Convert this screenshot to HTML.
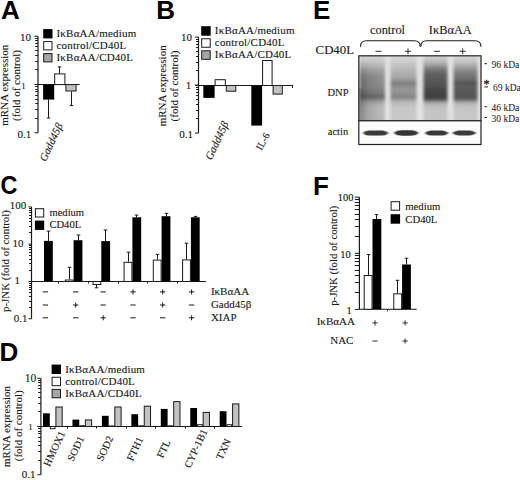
<!DOCTYPE html>
<html><head><meta charset="utf-8"><style>
html,body{margin:0;padding:0;background:#fff;width:520px;height:480px;overflow:hidden}
svg{display:block}
</style></head><body>
<svg width="520" height="480" viewBox="0 0 520 480">
<rect width="520" height="480" fill="#fff"/>
<text x="1.0" y="19" font-family="'Liberation Sans', sans-serif" font-size="26" text-anchor="start" font-weight="bold" font-style="normal" fill="#000">A</text>
<line x1="38.0" y1="36.25" x2="38.0" y2="132.75" stroke="#1a1a1a" stroke-width="1.2"/>
<line x1="34.5" y1="36.25" x2="38.0" y2="36.25" stroke="#1a1a1a" stroke-width="1"/>
<line x1="34.5" y1="84.5" x2="38.0" y2="84.5" stroke="#1a1a1a" stroke-width="1"/>
<line x1="34.5" y1="132.75" x2="38.0" y2="132.75" stroke="#1a1a1a" stroke-width="1"/>
<line x1="35.2" y1="69.5" x2="38.0" y2="69.5" stroke="#1a1a1a" stroke-width="1"/>
<line x1="35.2" y1="61.5" x2="38.0" y2="61.5" stroke="#1a1a1a" stroke-width="1"/>
<line x1="35.2" y1="55.5" x2="38.0" y2="55.5" stroke="#1a1a1a" stroke-width="1"/>
<line x1="35.2" y1="50.5" x2="38.0" y2="50.5" stroke="#1a1a1a" stroke-width="1"/>
<line x1="35.2" y1="46.5" x2="38.0" y2="46.5" stroke="#1a1a1a" stroke-width="1"/>
<line x1="35.2" y1="43.5" x2="38.0" y2="43.5" stroke="#1a1a1a" stroke-width="1"/>
<line x1="35.2" y1="40.5" x2="38.0" y2="40.5" stroke="#1a1a1a" stroke-width="1"/>
<line x1="35.2" y1="38.5" x2="38.0" y2="38.5" stroke="#1a1a1a" stroke-width="1"/>
<line x1="35.2" y1="118.5" x2="38.0" y2="118.5" stroke="#1a1a1a" stroke-width="1"/>
<line x1="35.2" y1="109.5" x2="38.0" y2="109.5" stroke="#1a1a1a" stroke-width="1"/>
<line x1="35.2" y1="103.5" x2="38.0" y2="103.5" stroke="#1a1a1a" stroke-width="1"/>
<line x1="35.2" y1="99.5" x2="38.0" y2="99.5" stroke="#1a1a1a" stroke-width="1"/>
<line x1="35.2" y1="95.5" x2="38.0" y2="95.5" stroke="#1a1a1a" stroke-width="1"/>
<line x1="35.2" y1="91.5" x2="38.0" y2="91.5" stroke="#1a1a1a" stroke-width="1"/>
<line x1="35.2" y1="89.5" x2="38.0" y2="89.5" stroke="#1a1a1a" stroke-width="1"/>
<line x1="35.2" y1="86.5" x2="38.0" y2="86.5" stroke="#1a1a1a" stroke-width="1"/>
<text x="25.6" y="40.5" font-family="'Liberation Serif', serif" font-size="11" text-anchor="middle" font-weight="normal" font-style="normal" fill="#1a1a1a" stroke="#1a1a1a" stroke-width="0.12">10</text>
<text x="23.6" y="89" font-family="'Liberation Serif', serif" font-size="9" text-anchor="middle" font-weight="normal" font-style="normal" fill="#1a1a1a" stroke="#1a1a1a" stroke-width="0.12">1</text>
<text x="24.4" y="137.5" font-family="'Liberation Serif', serif" font-size="11" text-anchor="middle" font-weight="normal" font-style="normal" fill="#1a1a1a" stroke="#1a1a1a" stroke-width="0.12">0.1</text>
<text x="7.8" y="85.2" font-family="'Liberation Serif', serif" font-size="11" text-anchor="middle" font-weight="normal" font-style="normal" fill="#1a1a1a" stroke="#1a1a1a" stroke-width="0.12" transform="rotate(-90 7.8 85.2)">mRNA expression</text>
<text x="19.8" y="85.5" font-family="'Liberation Serif', serif" font-size="11" text-anchor="middle" font-weight="normal" font-style="normal" fill="#1a1a1a" stroke="#1a1a1a" stroke-width="0.12" transform="rotate(-90 19.8 85.5)">(fold of control)</text>
<line x1="34.5" y1="84.5" x2="79.5" y2="84.5" stroke="#1a1a1a" stroke-width="1.1"/>
<rect x="43.1" y="84.6" width="11.100000000000001" height="15.0" fill="#000"/>
<line x1="48.5" y1="99.6" x2="48.5" y2="118" stroke="#1a1a1a" stroke-width="1"/>
<line x1="46.7" y1="118" x2="50.3" y2="118" stroke="#1a1a1a" stroke-width="1"/>
<rect x="54.7" y="73.9" width="10.200000000000003" height="10.699999999999989" fill="#fff" stroke="#1a1a1a" stroke-width="1"/>
<line x1="59.5" y1="73.4" x2="59.5" y2="66.9" stroke="#1a1a1a" stroke-width="1"/>
<line x1="57.7" y1="66.9" x2="61.3" y2="66.9" stroke="#1a1a1a" stroke-width="1"/>
<rect x="65.9" y="84.6" width="10.199999999999989" height="6.400000000000006" fill="#c2c2c2" stroke="#1a1a1a" stroke-width="1"/>
<line x1="71.5" y1="91.5" x2="71.5" y2="105.6" stroke="#1a1a1a" stroke-width="1"/>
<line x1="69.7" y1="105.6" x2="73.3" y2="105.6" stroke="#1a1a1a" stroke-width="1"/>
<rect x="43.2" y="29.1" width="9.3" height="9.3" fill="#000"/>
<text x="56.5" y="36.900000000000006" font-family="'Liberation Serif', serif" font-size="11" text-anchor="start" font-weight="normal" font-style="normal" fill="#1a1a1a" stroke="#1a1a1a" stroke-width="0.12" letter-spacing="0.2">I&#954;B&#945;AA/medium</text>
<rect x="43.7" y="41.6" width="8.3" height="8.3" fill="#fff" stroke="#1a1a1a" stroke-width="1"/>
<text x="56.5" y="48.900000000000006" font-family="'Liberation Serif', serif" font-size="11" text-anchor="start" font-weight="normal" font-style="normal" fill="#1a1a1a" stroke="#1a1a1a" stroke-width="0.12" letter-spacing="0.2">control/CD40L</text>
<rect x="43.7" y="53.6" width="8.3" height="8.3" fill="#a6a6a6" stroke="#1a1a1a" stroke-width="1"/>
<text x="56.5" y="60.900000000000006" font-family="'Liberation Serif', serif" font-size="11" text-anchor="start" font-weight="normal" font-style="normal" fill="#1a1a1a" stroke="#1a1a1a" stroke-width="0.12" letter-spacing="0.2">I&#954;B&#945;AA/CD40L</text>
<text x="45.7" y="162.3" font-family="'Liberation Serif', serif" font-size="11" text-anchor="start" font-weight="normal" font-style="italic" fill="#1a1a1a" stroke="#1a1a1a" stroke-width="0.12" transform="rotate(-65 45.7 162.3)">Gadd45&#946;</text>
<text x="156.3" y="19.4" font-family="'Liberation Sans', sans-serif" font-size="26" text-anchor="start" font-weight="bold" font-style="normal" fill="#000">B</text>
<line x1="198.5" y1="37.1" x2="198.5" y2="133.1" stroke="#1a1a1a" stroke-width="1.2"/>
<line x1="195.0" y1="37.1" x2="198.5" y2="37.1" stroke="#1a1a1a" stroke-width="1"/>
<line x1="195.0" y1="85.1" x2="198.5" y2="85.1" stroke="#1a1a1a" stroke-width="1"/>
<line x1="195.0" y1="133.1" x2="198.5" y2="133.1" stroke="#1a1a1a" stroke-width="1"/>
<line x1="196.0" y1="70.5" x2="198.5" y2="70.5" stroke="#1a1a1a" stroke-width="1"/>
<line x1="196.0" y1="62.5" x2="198.5" y2="62.5" stroke="#1a1a1a" stroke-width="1"/>
<line x1="196.0" y1="56.5" x2="198.5" y2="56.5" stroke="#1a1a1a" stroke-width="1"/>
<line x1="196.0" y1="51.5" x2="198.5" y2="51.5" stroke="#1a1a1a" stroke-width="1"/>
<line x1="196.0" y1="47.5" x2="198.5" y2="47.5" stroke="#1a1a1a" stroke-width="1"/>
<line x1="196.0" y1="44.5" x2="198.5" y2="44.5" stroke="#1a1a1a" stroke-width="1"/>
<line x1="196.0" y1="41.5" x2="198.5" y2="41.5" stroke="#1a1a1a" stroke-width="1"/>
<line x1="196.0" y1="39.5" x2="198.5" y2="39.5" stroke="#1a1a1a" stroke-width="1"/>
<line x1="196.0" y1="118.5" x2="198.5" y2="118.5" stroke="#1a1a1a" stroke-width="1"/>
<line x1="196.0" y1="110.5" x2="198.5" y2="110.5" stroke="#1a1a1a" stroke-width="1"/>
<line x1="196.0" y1="104.5" x2="198.5" y2="104.5" stroke="#1a1a1a" stroke-width="1"/>
<line x1="196.0" y1="99.5" x2="198.5" y2="99.5" stroke="#1a1a1a" stroke-width="1"/>
<line x1="196.0" y1="95.5" x2="198.5" y2="95.5" stroke="#1a1a1a" stroke-width="1"/>
<line x1="196.0" y1="92.5" x2="198.5" y2="92.5" stroke="#1a1a1a" stroke-width="1"/>
<line x1="196.0" y1="89.5" x2="198.5" y2="89.5" stroke="#1a1a1a" stroke-width="1"/>
<line x1="196.0" y1="87.5" x2="198.5" y2="87.5" stroke="#1a1a1a" stroke-width="1"/>
<text x="186.6" y="40.8" font-family="'Liberation Serif', serif" font-size="11" text-anchor="middle" font-weight="normal" font-style="normal" fill="#1a1a1a" stroke="#1a1a1a" stroke-width="0.12">10</text>
<text x="188.5" y="89.3" font-family="'Liberation Serif', serif" font-size="11" text-anchor="middle" font-weight="normal" font-style="normal" fill="#1a1a1a" stroke="#1a1a1a" stroke-width="0.12">1</text>
<text x="186.1" y="137.5" font-family="'Liberation Serif', serif" font-size="11" text-anchor="middle" font-weight="normal" font-style="normal" fill="#1a1a1a" stroke="#1a1a1a" stroke-width="0.12">0.1</text>
<text x="165.6" y="85.8" font-family="'Liberation Serif', serif" font-size="11" text-anchor="middle" font-weight="normal" font-style="normal" fill="#1a1a1a" stroke="#1a1a1a" stroke-width="0.12" transform="rotate(-90 165.6 85.8)">mRNA expression</text>
<text x="178.1" y="86.0" font-family="'Liberation Serif', serif" font-size="11" text-anchor="middle" font-weight="normal" font-style="normal" fill="#1a1a1a" stroke="#1a1a1a" stroke-width="0.12" transform="rotate(-90 178.1 86.0)">(fold of control)</text>
<line x1="195" y1="85.5" x2="293" y2="85.5" stroke="#1a1a1a" stroke-width="1.0"/>
<line x1="292.5" y1="85.5" x2="292.5" y2="88" stroke="#1a1a1a" stroke-width="1"/>
<rect x="203.3" y="85.5" width="11.299999999999983" height="12.400000000000006" fill="#000"/>
<rect x="215.1" y="79.7" width="10.200000000000017" height="5.799999999999997" fill="#fff" stroke="#1a1a1a" stroke-width="1"/>
<rect x="226.3" y="85.5" width="9.5" height="5.700000000000003" fill="#c2c2c2" stroke="#1a1a1a" stroke-width="1"/>
<rect x="251.3" y="85.5" width="10.800000000000011" height="40.099999999999994" fill="#000"/>
<rect x="262.6" y="60.5" width="9.5" height="25.0" fill="#fff" stroke="#1a1a1a" stroke-width="1"/>
<rect x="273.1" y="85.5" width="9.199999999999989" height="8.599999999999994" fill="#c2c2c2" stroke="#1a1a1a" stroke-width="1"/>
<rect x="201.2" y="26.2" width="9.5" height="9.5" fill="#000"/>
<text x="214.8" y="34.2" font-family="'Liberation Serif', serif" font-size="11" text-anchor="start" font-weight="normal" font-style="normal" fill="#1a1a1a" stroke="#1a1a1a" stroke-width="0.12" letter-spacing="0.2">I&#954;B&#945;AA/medium</text>
<rect x="201.7" y="38.75" width="8.5" height="8.5" fill="#fff" stroke="#1a1a1a" stroke-width="1"/>
<text x="214.8" y="46.25" font-family="'Liberation Serif', serif" font-size="11" text-anchor="start" font-weight="normal" font-style="normal" fill="#1a1a1a" stroke="#1a1a1a" stroke-width="0.12" letter-spacing="0.2">control/CD40L</text>
<rect x="201.7" y="50.8" width="8.5" height="8.5" fill="#a6a6a6" stroke="#1a1a1a" stroke-width="1"/>
<text x="214.8" y="58.3" font-family="'Liberation Serif', serif" font-size="11" text-anchor="start" font-weight="normal" font-style="normal" fill="#1a1a1a" stroke="#1a1a1a" stroke-width="0.12" letter-spacing="0.2">I&#954;B&#945;AA/CD40L</text>
<text x="211.5" y="160.7" font-family="'Liberation Serif', serif" font-size="11" text-anchor="start" font-weight="normal" font-style="italic" fill="#1a1a1a" stroke="#1a1a1a" stroke-width="0.12" transform="rotate(-65 211.5 160.7)">Gadd45&#946;</text>
<text x="261.6" y="150.9" font-family="'Liberation Serif', serif" font-size="10.2" text-anchor="start" font-weight="normal" font-style="normal" fill="#1a1a1a" stroke="#1a1a1a" stroke-width="0.12" transform="rotate(-62 261.6 150.9)">IL-6</text>
<g transform="translate(0.4 0) scale(0.9 1)">
<text x="0" y="194" font-family="'Liberation Sans', sans-serif" font-size="26" text-anchor="start" font-weight="bold" font-style="normal" fill="#000">C</text>
</g>
<line x1="31.5" y1="206.9" x2="31.5" y2="318.8" stroke="#1a1a1a" stroke-width="1.2"/>
<line x1="28.5" y1="206.9" x2="31.5" y2="206.9" stroke="#1a1a1a" stroke-width="1"/>
<line x1="28.5" y1="244.2" x2="31.5" y2="244.2" stroke="#1a1a1a" stroke-width="1"/>
<line x1="28.5" y1="281.5" x2="31.5" y2="281.5" stroke="#1a1a1a" stroke-width="1"/>
<line x1="28.5" y1="318.8" x2="31.5" y2="318.8" stroke="#1a1a1a" stroke-width="1"/>
<line x1="29.0" y1="232.5" x2="31.5" y2="232.5" stroke="#1a1a1a" stroke-width="1"/>
<line x1="29.0" y1="226.5" x2="31.5" y2="226.5" stroke="#1a1a1a" stroke-width="1"/>
<line x1="29.0" y1="221.5" x2="31.5" y2="221.5" stroke="#1a1a1a" stroke-width="1"/>
<line x1="29.0" y1="218.5" x2="31.5" y2="218.5" stroke="#1a1a1a" stroke-width="1"/>
<line x1="29.0" y1="215.5" x2="31.5" y2="215.5" stroke="#1a1a1a" stroke-width="1"/>
<line x1="29.0" y1="212.5" x2="31.5" y2="212.5" stroke="#1a1a1a" stroke-width="1"/>
<line x1="29.0" y1="210.5" x2="31.5" y2="210.5" stroke="#1a1a1a" stroke-width="1"/>
<line x1="29.0" y1="208.5" x2="31.5" y2="208.5" stroke="#1a1a1a" stroke-width="1"/>
<line x1="29.0" y1="270.5" x2="31.5" y2="270.5" stroke="#1a1a1a" stroke-width="1"/>
<line x1="29.0" y1="263.5" x2="31.5" y2="263.5" stroke="#1a1a1a" stroke-width="1"/>
<line x1="29.0" y1="259.5" x2="31.5" y2="259.5" stroke="#1a1a1a" stroke-width="1"/>
<line x1="29.0" y1="255.5" x2="31.5" y2="255.5" stroke="#1a1a1a" stroke-width="1"/>
<line x1="29.0" y1="252.5" x2="31.5" y2="252.5" stroke="#1a1a1a" stroke-width="1"/>
<line x1="29.0" y1="249.5" x2="31.5" y2="249.5" stroke="#1a1a1a" stroke-width="1"/>
<line x1="29.0" y1="247.5" x2="31.5" y2="247.5" stroke="#1a1a1a" stroke-width="1"/>
<line x1="29.0" y1="245.5" x2="31.5" y2="245.5" stroke="#1a1a1a" stroke-width="1"/>
<line x1="29.0" y1="307.5" x2="31.5" y2="307.5" stroke="#1a1a1a" stroke-width="1"/>
<line x1="29.0" y1="301.5" x2="31.5" y2="301.5" stroke="#1a1a1a" stroke-width="1"/>
<line x1="29.0" y1="296.5" x2="31.5" y2="296.5" stroke="#1a1a1a" stroke-width="1"/>
<line x1="29.0" y1="292.5" x2="31.5" y2="292.5" stroke="#1a1a1a" stroke-width="1"/>
<line x1="29.0" y1="289.5" x2="31.5" y2="289.5" stroke="#1a1a1a" stroke-width="1"/>
<line x1="29.0" y1="287.5" x2="31.5" y2="287.5" stroke="#1a1a1a" stroke-width="1"/>
<line x1="29.0" y1="285.5" x2="31.5" y2="285.5" stroke="#1a1a1a" stroke-width="1"/>
<line x1="29.0" y1="283.5" x2="31.5" y2="283.5" stroke="#1a1a1a" stroke-width="1"/>
<text x="18.1" y="209" font-family="'Liberation Serif', serif" font-size="11" text-anchor="middle" font-weight="normal" font-style="normal" fill="#1a1a1a" stroke="#1a1a1a" stroke-width="0.12">100</text>
<text x="18.1" y="246.5" font-family="'Liberation Serif', serif" font-size="11" text-anchor="middle" font-weight="normal" font-style="normal" fill="#1a1a1a" stroke="#1a1a1a" stroke-width="0.12">10</text>
<text x="17.2" y="284.2" font-family="'Liberation Serif', serif" font-size="11" text-anchor="middle" font-weight="normal" font-style="normal" fill="#1a1a1a" stroke="#1a1a1a" stroke-width="0.12">1</text>
<text x="20.6" y="322.3" font-family="'Liberation Serif', serif" font-size="11" text-anchor="middle" font-weight="normal" font-style="normal" fill="#1a1a1a" stroke="#1a1a1a" stroke-width="0.12">0.1</text>
<text x="9.2" y="261.0" font-family="'Liberation Serif', serif" font-size="10.9" text-anchor="middle" font-weight="normal" font-style="normal" fill="#1a1a1a" stroke="#1a1a1a" stroke-width="0.12" transform="rotate(-90 9.2 261.0)">p-JNK (fold of control)</text>
<line x1="31" y1="281.5" x2="206" y2="281.5" stroke="#1a1a1a" stroke-width="1.0"/>
<rect x="44.0" y="240.9" width="8.799999999999997" height="40.599999999999994" fill="#000"/>
<line x1="48.5" y1="240.9" x2="48.5" y2="231.1" stroke="#1a1a1a" stroke-width="1"/>
<line x1="46.7" y1="231.1" x2="50.3" y2="231.1" stroke="#1a1a1a" stroke-width="1"/>
<rect x="65.3" y="280.0" width="7.799999999999997" height="1.5" fill="#fff" stroke="#1a1a1a" stroke-width="1"/>
<line x1="69.5" y1="279.5" x2="69.5" y2="267.3" stroke="#1a1a1a" stroke-width="1"/>
<line x1="67.7" y1="267.3" x2="71.3" y2="267.3" stroke="#1a1a1a" stroke-width="1"/>
<rect x="73.6" y="240.2" width="8.799999999999997" height="41.30000000000001" fill="#000"/>
<line x1="78.5" y1="240.2" x2="78.5" y2="235.0" stroke="#1a1a1a" stroke-width="1"/>
<line x1="76.7" y1="235.0" x2="80.3" y2="235.0" stroke="#1a1a1a" stroke-width="1"/>
<rect x="93.0" y="281.5" width="7.799999999999997" height="3.0" fill="#fff" stroke="#1a1a1a" stroke-width="1"/>
<line x1="96.5" y1="285.0" x2="96.5" y2="287.8" stroke="#1a1a1a" stroke-width="1"/>
<line x1="94.7" y1="287.8" x2="98.3" y2="287.8" stroke="#1a1a1a" stroke-width="1"/>
<rect x="101.3" y="241.1" width="8.799999999999997" height="40.400000000000006" fill="#000"/>
<line x1="105.5" y1="241.1" x2="105.5" y2="230.0" stroke="#1a1a1a" stroke-width="1"/>
<line x1="103.7" y1="230.0" x2="107.3" y2="230.0" stroke="#1a1a1a" stroke-width="1"/>
<rect x="124.10000000000001" y="262.3" width="7.799999999999997" height="19.19999999999999" fill="#fff" stroke="#1a1a1a" stroke-width="1"/>
<line x1="128.5" y1="261.8" x2="128.5" y2="252.2" stroke="#1a1a1a" stroke-width="1"/>
<line x1="126.7" y1="252.2" x2="130.3" y2="252.2" stroke="#1a1a1a" stroke-width="1"/>
<rect x="132.4" y="217.3" width="8.800000000000011" height="64.19999999999999" fill="#000"/>
<line x1="136.5" y1="217.3" x2="136.5" y2="215.0" stroke="#1a1a1a" stroke-width="1"/>
<line x1="134.7" y1="215.0" x2="138.3" y2="215.0" stroke="#1a1a1a" stroke-width="1"/>
<rect x="153.29999999999998" y="260.1" width="7.800000000000011" height="21.399999999999977" fill="#fff" stroke="#1a1a1a" stroke-width="1"/>
<line x1="157.5" y1="259.6" x2="157.5" y2="254.3" stroke="#1a1a1a" stroke-width="1"/>
<line x1="155.7" y1="254.3" x2="159.3" y2="254.3" stroke="#1a1a1a" stroke-width="1"/>
<rect x="161.6" y="216.2" width="8.800000000000011" height="65.30000000000001" fill="#000"/>
<line x1="166.5" y1="216.2" x2="166.5" y2="213.4" stroke="#1a1a1a" stroke-width="1"/>
<line x1="164.7" y1="213.4" x2="168.3" y2="213.4" stroke="#1a1a1a" stroke-width="1"/>
<rect x="182.6" y="259.9" width="7.800000000000011" height="21.600000000000023" fill="#fff" stroke="#1a1a1a" stroke-width="1"/>
<line x1="186.5" y1="259.4" x2="186.5" y2="243.2" stroke="#1a1a1a" stroke-width="1"/>
<line x1="184.7" y1="243.2" x2="188.3" y2="243.2" stroke="#1a1a1a" stroke-width="1"/>
<rect x="190.9" y="217.3" width="8.800000000000011" height="64.19999999999999" fill="#000"/>
<line x1="195.5" y1="217.3" x2="195.5" y2="216.4" stroke="#1a1a1a" stroke-width="1"/>
<line x1="193.7" y1="216.4" x2="197.3" y2="216.4" stroke="#1a1a1a" stroke-width="1"/>
<line x1="58.5" y1="281.5" x2="58.5" y2="283.5" stroke="#1a1a1a" stroke-width="1"/>
<line x1="88.5" y1="281.5" x2="88.5" y2="283.5" stroke="#1a1a1a" stroke-width="1"/>
<line x1="118.5" y1="281.5" x2="118.5" y2="283.5" stroke="#1a1a1a" stroke-width="1"/>
<line x1="147.5" y1="281.5" x2="147.5" y2="283.5" stroke="#1a1a1a" stroke-width="1"/>
<line x1="177.5" y1="281.5" x2="177.5" y2="283.5" stroke="#1a1a1a" stroke-width="1"/>
<rect x="35.4" y="208.7" width="8.3" height="8.3" fill="#fff" stroke="#1a1a1a" stroke-width="1"/>
<text x="49.4" y="215.9" font-family="'Liberation Serif', serif" font-size="10.6" text-anchor="start" font-weight="normal" font-style="normal" fill="#1a1a1a" stroke="#1a1a1a" stroke-width="0.12">medium</text>
<rect x="34.9" y="220.6" width="9.3" height="9.3" fill="#000"/>
<text x="49.4" y="228.3" font-family="'Liberation Serif', serif" font-size="10.6" text-anchor="start" font-weight="normal" font-style="normal" fill="#1a1a1a" stroke="#1a1a1a" stroke-width="0.12">CD40L</text>
<line x1="42.699999999999996" y1="291.9" x2="48.1" y2="291.9" stroke="#1a1a1a" stroke-width="1.0"/>
<line x1="73.0" y1="291.9" x2="78.4" y2="291.9" stroke="#1a1a1a" stroke-width="1.0"/>
<line x1="100.5" y1="291.9" x2="105.9" y2="291.9" stroke="#1a1a1a" stroke-width="1.0"/>
<line x1="130.3" y1="291.9" x2="135.7" y2="291.9" stroke="#1a1a1a" stroke-width="1.0"/>
<line x1="133.0" y1="289.4" x2="133.0" y2="294.4" stroke="#1a1a1a" stroke-width="1.0"/>
<line x1="160.0" y1="291.9" x2="165.39999999999998" y2="291.9" stroke="#1a1a1a" stroke-width="1.0"/>
<line x1="162.7" y1="289.4" x2="162.7" y2="294.4" stroke="#1a1a1a" stroke-width="1.0"/>
<line x1="188.9" y1="291.9" x2="194.29999999999998" y2="291.9" stroke="#1a1a1a" stroke-width="1.0"/>
<line x1="191.6" y1="289.4" x2="191.6" y2="294.4" stroke="#1a1a1a" stroke-width="1.0"/>
<line x1="42.699999999999996" y1="305.0" x2="48.1" y2="305.0" stroke="#1a1a1a" stroke-width="1.0"/>
<line x1="73.0" y1="305.0" x2="78.4" y2="305.0" stroke="#1a1a1a" stroke-width="1.0"/>
<line x1="75.7" y1="302.5" x2="75.7" y2="307.5" stroke="#1a1a1a" stroke-width="1.0"/>
<line x1="100.5" y1="305.0" x2="105.9" y2="305.0" stroke="#1a1a1a" stroke-width="1.0"/>
<line x1="130.3" y1="305.0" x2="135.7" y2="305.0" stroke="#1a1a1a" stroke-width="1.0"/>
<line x1="160.0" y1="305.0" x2="165.39999999999998" y2="305.0" stroke="#1a1a1a" stroke-width="1.0"/>
<line x1="162.7" y1="302.5" x2="162.7" y2="307.5" stroke="#1a1a1a" stroke-width="1.0"/>
<line x1="188.9" y1="305.0" x2="194.29999999999998" y2="305.0" stroke="#1a1a1a" stroke-width="1.0"/>
<line x1="42.699999999999996" y1="317.8" x2="48.1" y2="317.8" stroke="#1a1a1a" stroke-width="1.0"/>
<line x1="73.0" y1="317.8" x2="78.4" y2="317.8" stroke="#1a1a1a" stroke-width="1.0"/>
<line x1="100.5" y1="317.8" x2="105.9" y2="317.8" stroke="#1a1a1a" stroke-width="1.0"/>
<line x1="103.2" y1="315.3" x2="103.2" y2="320.3" stroke="#1a1a1a" stroke-width="1.0"/>
<line x1="130.3" y1="317.8" x2="135.7" y2="317.8" stroke="#1a1a1a" stroke-width="1.0"/>
<line x1="160.0" y1="317.8" x2="165.39999999999998" y2="317.8" stroke="#1a1a1a" stroke-width="1.0"/>
<line x1="188.9" y1="317.8" x2="194.29999999999998" y2="317.8" stroke="#1a1a1a" stroke-width="1.0"/>
<line x1="191.6" y1="315.3" x2="191.6" y2="320.3" stroke="#1a1a1a" stroke-width="1.0"/>
<text x="210.9" y="294.6" font-family="'Liberation Serif', serif" font-size="11" text-anchor="start" font-weight="normal" font-style="normal" fill="#1a1a1a" stroke="#1a1a1a" stroke-width="0.12">I&#954;B&#945;AA</text>
<text x="210.9" y="307.8" font-family="'Liberation Serif', serif" font-size="11" text-anchor="start" font-weight="normal" font-style="normal" fill="#1a1a1a" stroke="#1a1a1a" stroke-width="0.12">Gadd45&#946;</text>
<text x="210.9" y="320.7" font-family="'Liberation Serif', serif" font-size="11" text-anchor="start" font-weight="normal" font-style="normal" fill="#1a1a1a" stroke="#1a1a1a" stroke-width="0.12">XIAP</text>
<text x="-0.5" y="361" font-family="'Liberation Sans', sans-serif" font-size="26" text-anchor="start" font-weight="bold" font-style="normal" fill="#000">D</text>
<line x1="40.9" y1="378.3" x2="40.9" y2="474.70000000000005" stroke="#1a1a1a" stroke-width="1.2"/>
<line x1="37.4" y1="378.3" x2="40.9" y2="378.3" stroke="#1a1a1a" stroke-width="1"/>
<line x1="37.4" y1="426.5" x2="40.9" y2="426.5" stroke="#1a1a1a" stroke-width="1"/>
<line x1="37.4" y1="474.70000000000005" x2="40.9" y2="474.70000000000005" stroke="#1a1a1a" stroke-width="1"/>
<line x1="38.1" y1="411.5" x2="40.9" y2="411.5" stroke="#1a1a1a" stroke-width="1"/>
<line x1="38.1" y1="403.5" x2="40.9" y2="403.5" stroke="#1a1a1a" stroke-width="1"/>
<line x1="38.1" y1="397.5" x2="40.9" y2="397.5" stroke="#1a1a1a" stroke-width="1"/>
<line x1="38.1" y1="392.5" x2="40.9" y2="392.5" stroke="#1a1a1a" stroke-width="1"/>
<line x1="38.1" y1="388.5" x2="40.9" y2="388.5" stroke="#1a1a1a" stroke-width="1"/>
<line x1="38.1" y1="385.5" x2="40.9" y2="385.5" stroke="#1a1a1a" stroke-width="1"/>
<line x1="38.1" y1="382.5" x2="40.9" y2="382.5" stroke="#1a1a1a" stroke-width="1"/>
<line x1="38.1" y1="380.5" x2="40.9" y2="380.5" stroke="#1a1a1a" stroke-width="1"/>
<line x1="38.1" y1="460.5" x2="40.9" y2="460.5" stroke="#1a1a1a" stroke-width="1"/>
<line x1="38.1" y1="451.5" x2="40.9" y2="451.5" stroke="#1a1a1a" stroke-width="1"/>
<line x1="38.1" y1="445.5" x2="40.9" y2="445.5" stroke="#1a1a1a" stroke-width="1"/>
<line x1="38.1" y1="441.5" x2="40.9" y2="441.5" stroke="#1a1a1a" stroke-width="1"/>
<line x1="38.1" y1="437.5" x2="40.9" y2="437.5" stroke="#1a1a1a" stroke-width="1"/>
<line x1="38.1" y1="433.5" x2="40.9" y2="433.5" stroke="#1a1a1a" stroke-width="1"/>
<line x1="38.1" y1="431.5" x2="40.9" y2="431.5" stroke="#1a1a1a" stroke-width="1"/>
<line x1="38.1" y1="428.5" x2="40.9" y2="428.5" stroke="#1a1a1a" stroke-width="1"/>
<text x="30.6" y="382" font-family="'Liberation Serif', serif" font-size="11.5" text-anchor="middle" font-weight="normal" font-style="normal" fill="#1a1a1a" stroke="#1a1a1a" stroke-width="0.12">10</text>
<text x="30.4" y="430" font-family="'Liberation Serif', serif" font-size="9" text-anchor="middle" font-weight="normal" font-style="normal" fill="#1a1a1a" stroke="#1a1a1a" stroke-width="0.12">1</text>
<text x="28.6" y="477.8" font-family="'Liberation Serif', serif" font-size="11" text-anchor="middle" font-weight="normal" font-style="normal" fill="#1a1a1a" stroke="#1a1a1a" stroke-width="0.12">0.1</text>
<text x="10.3" y="426.5" font-family="'Liberation Serif', serif" font-size="11" text-anchor="middle" font-weight="normal" font-style="normal" fill="#1a1a1a" stroke="#1a1a1a" stroke-width="0.12" transform="rotate(-90 10.3 426.5)">mRNA expression</text>
<text x="22.3" y="425.8" font-family="'Liberation Serif', serif" font-size="11" text-anchor="middle" font-weight="normal" font-style="normal" fill="#1a1a1a" stroke="#1a1a1a" stroke-width="0.12" transform="rotate(-90 22.3 425.8)">(fold of control)</text>
<line x1="37.4" y1="426.5" x2="242" y2="426.5" stroke="#1a1a1a" stroke-width="1.1"/>
<rect x="43.0" y="413.3" width="6.799999999999997" height="13.199999999999989" fill="#000"/>
<rect x="50.3" y="426.5" width="4.700000000000003" height="2.1999999999999886" fill="#fff" stroke="#1a1a1a" stroke-width="1"/>
<rect x="55.9" y="407.0" width="6.300000000000004" height="19.5" fill="#c2c2c2" stroke="#1a1a1a" stroke-width="1"/>
<rect x="72.45" y="419.6" width="6.799999999999997" height="6.899999999999977" fill="#000"/>
<rect x="79.75" y="425.7" width="4.700000000000003" height="0.8000000000000114" fill="#fff" stroke="#1a1a1a" stroke-width="1"/>
<rect x="85.35000000000001" y="419.9" width="6.299999999999997" height="6.600000000000023" fill="#c2c2c2" stroke="#1a1a1a" stroke-width="1"/>
<rect x="101.9" y="415.8" width="6.799999999999997" height="10.699999999999989" fill="#000"/>
<rect x="109.2" y="426.0" width="4.700000000000003" height="0.5" fill="#fff" stroke="#1a1a1a" stroke-width="1"/>
<rect x="114.80000000000001" y="407.0" width="6.299999999999997" height="19.5" fill="#c2c2c2" stroke="#1a1a1a" stroke-width="1"/>
<rect x="131.35" y="414.2" width="6.800000000000011" height="12.300000000000011" fill="#000"/>
<rect x="138.65" y="425.8" width="4.699999999999989" height="0.6999999999999886" fill="#fff" stroke="#1a1a1a" stroke-width="1"/>
<rect x="144.25" y="406.2" width="6.299999999999983" height="20.30000000000001" fill="#c2c2c2" stroke="#1a1a1a" stroke-width="1"/>
<rect x="160.8" y="408.9" width="6.800000000000011" height="17.600000000000023" fill="#000"/>
<rect x="168.10000000000002" y="425.8" width="4.699999999999989" height="0.6999999999999886" fill="#fff" stroke="#1a1a1a" stroke-width="1"/>
<rect x="173.70000000000002" y="401.6" width="6.299999999999983" height="24.899999999999977" fill="#c2c2c2" stroke="#1a1a1a" stroke-width="1"/>
<rect x="190.25" y="408.0" width="6.800000000000011" height="18.5" fill="#000"/>
<rect x="197.55" y="424.7" width="4.699999999999989" height="1.8000000000000114" fill="#fff" stroke="#1a1a1a" stroke-width="1"/>
<rect x="203.15" y="412.4" width="6.299999999999983" height="14.100000000000023" fill="#c2c2c2" stroke="#1a1a1a" stroke-width="1"/>
<rect x="219.7" y="411.2" width="6.800000000000011" height="15.300000000000011" fill="#000"/>
<rect x="227.0" y="424.7" width="4.699999999999989" height="1.8000000000000114" fill="#fff" stroke="#1a1a1a" stroke-width="1"/>
<rect x="232.6" y="403.9" width="6.299999999999983" height="22.600000000000023" fill="#c2c2c2" stroke="#1a1a1a" stroke-width="1"/>
<line x1="67.5" y1="426.5" x2="67.5" y2="428.5" stroke="#1a1a1a" stroke-width="1"/>
<line x1="96.5" y1="426.5" x2="96.5" y2="428.5" stroke="#1a1a1a" stroke-width="1"/>
<line x1="126.5" y1="426.5" x2="126.5" y2="428.5" stroke="#1a1a1a" stroke-width="1"/>
<line x1="155.5" y1="426.5" x2="155.5" y2="428.5" stroke="#1a1a1a" stroke-width="1"/>
<line x1="185.5" y1="426.5" x2="185.5" y2="428.5" stroke="#1a1a1a" stroke-width="1"/>
<line x1="214.5" y1="426.5" x2="214.5" y2="428.5" stroke="#1a1a1a" stroke-width="1"/>
<rect x="51.6" y="364.6" width="9.4" height="9.4" fill="#000"/>
<text x="65.2" y="372.5" font-family="'Liberation Serif', serif" font-size="11" text-anchor="start" font-weight="normal" font-style="normal" fill="#1a1a1a" stroke="#1a1a1a" stroke-width="0.12" letter-spacing="0.2">I&#954;B&#945;AA/medium</text>
<rect x="52.1" y="377.25" width="8.4" height="8.4" fill="#fff" stroke="#1a1a1a" stroke-width="1"/>
<text x="65.2" y="384.65" font-family="'Liberation Serif', serif" font-size="11" text-anchor="start" font-weight="normal" font-style="normal" fill="#1a1a1a" stroke="#1a1a1a" stroke-width="0.12" letter-spacing="0.2">control/CD40L</text>
<rect x="52.1" y="389.40000000000003" width="8.4" height="8.4" fill="#a6a6a6" stroke="#1a1a1a" stroke-width="1"/>
<text x="65.2" y="396.8" font-family="'Liberation Serif', serif" font-size="11" text-anchor="start" font-weight="normal" font-style="normal" fill="#1a1a1a" stroke="#1a1a1a" stroke-width="0.12" letter-spacing="0.2">I&#954;B&#945;AA/CD40L</text>
<text x="49.6" y="467.2" font-family="'Liberation Serif', serif" font-size="10.5" text-anchor="start" font-weight="normal" font-style="normal" fill="#1a1a1a" stroke="#1a1a1a" stroke-width="0.12" transform="rotate(-65 49.6 467.2)">HMOX1</text>
<text x="73.3" y="462" font-family="'Liberation Serif', serif" font-size="10.5" text-anchor="start" font-weight="normal" font-style="normal" fill="#1a1a1a" stroke="#1a1a1a" stroke-width="0.12" transform="rotate(-65 73.3 462)">SOD1</text>
<text x="102.5" y="461.8" font-family="'Liberation Serif', serif" font-size="10.5" text-anchor="start" font-weight="normal" font-style="normal" fill="#1a1a1a" stroke="#1a1a1a" stroke-width="0.12" transform="rotate(-65 102.5 461.8)">SOD2</text>
<text x="132.8" y="461.7" font-family="'Liberation Serif', serif" font-size="10.5" text-anchor="start" font-weight="normal" font-style="normal" fill="#1a1a1a" stroke="#1a1a1a" stroke-width="0.12" transform="rotate(-65 132.8 461.7)">FTH1</text>
<text x="162.75" y="458.75" font-family="'Liberation Serif', serif" font-size="10.5" text-anchor="start" font-weight="normal" font-style="normal" fill="#1a1a1a" stroke="#1a1a1a" stroke-width="0.12" transform="rotate(-65 162.75 458.75)">FTL</text>
<text x="190.2" y="468.8" font-family="'Liberation Serif', serif" font-size="10.5" text-anchor="start" font-weight="normal" font-style="normal" fill="#1a1a1a" stroke="#1a1a1a" stroke-width="0.12" transform="rotate(-65 190.2 468.8)">CYP-1B1</text>
<text x="222" y="460.4" font-family="'Liberation Serif', serif" font-size="10.5" text-anchor="start" font-weight="normal" font-style="normal" fill="#1a1a1a" stroke="#1a1a1a" stroke-width="0.12" transform="rotate(-65 222 460.4)">TXN</text>
<text x="313.0" y="18.8" font-family="'Liberation Sans', sans-serif" font-size="26" text-anchor="start" font-weight="bold" font-style="normal" fill="#000">E</text>
<text x="387.5" y="34.2" font-family="'Liberation Serif', serif" font-size="12.4" text-anchor="middle" font-weight="normal" font-style="normal" fill="#1a1a1a" stroke="#1a1a1a" stroke-width="0.12">control</text>
<text x="450.3" y="34.2" font-family="'Liberation Serif', serif" font-size="12.4" text-anchor="middle" font-weight="normal" font-style="normal" fill="#1a1a1a" stroke="#1a1a1a" stroke-width="0.12">I&#954;B&#945;AA</text>
<text x="315.6" y="54.1" font-family="'Liberation Serif', serif" font-size="12.8" text-anchor="start" font-weight="normal" font-style="normal" fill="#1a1a1a" stroke="#1a1a1a" stroke-width="0.12">CD40L</text>
<path d="M360.5,46.8 Q360.5,40.8 366.5,40.8 L414.2,40.8 Q420.2,40.8 420.2,46.8" fill="none" stroke="#1a1a1a" stroke-width="1.1"/>
<path d="M420.8,46.8 Q420.8,40.8 426.8,40.8 L475,40.8 Q481,40.8 481,46.8" fill="none" stroke="#1a1a1a" stroke-width="1.1"/>
<line x1="375.5" y1="51.3" x2="381.5" y2="51.3" stroke="#1a1a1a" stroke-width="0.9"/>
<line x1="405" y1="51.3" x2="411" y2="51.3" stroke="#1a1a1a" stroke-width="0.9"/>
<line x1="408" y1="48.3" x2="408" y2="54.3" stroke="#1a1a1a" stroke-width="0.9"/>
<line x1="433.9" y1="51.3" x2="439.9" y2="51.3" stroke="#1a1a1a" stroke-width="0.9"/>
<line x1="459.7" y1="51.3" x2="465.7" y2="51.3" stroke="#1a1a1a" stroke-width="0.9"/>
<line x1="462.7" y1="48.3" x2="462.7" y2="54.3" stroke="#1a1a1a" stroke-width="0.9"/>
<text x="338" y="96" font-family="'Liberation Serif', serif" font-size="10.5" text-anchor="middle" font-weight="normal" font-style="normal" fill="#1a1a1a" stroke="#1a1a1a" stroke-width="0.12">DNP</text>
<text x="338" y="135" font-family="'Liberation Serif', serif" font-size="10.5" text-anchor="middle" font-weight="normal" font-style="normal" fill="#1a1a1a" stroke="#1a1a1a" stroke-width="0.12">actin</text>
<line x1="484.5" y1="63.7" x2="487" y2="63.7" stroke="#1a1a1a" stroke-width="1"/>
<text x="491.5" y="67.9" font-family="'Liberation Serif', serif" font-size="9.5" text-anchor="start" font-weight="normal" font-style="normal" fill="#1a1a1a" stroke="#1a1a1a" stroke-width="0.05">96 kDa</text>
<line x1="484.5" y1="106.7" x2="487" y2="106.7" stroke="#1a1a1a" stroke-width="1"/>
<text x="491.5" y="110.9" font-family="'Liberation Serif', serif" font-size="9.5" text-anchor="start" font-weight="normal" font-style="normal" fill="#1a1a1a" stroke="#1a1a1a" stroke-width="0.05">46 kDa</text>
<line x1="484.5" y1="117.5" x2="487" y2="117.5" stroke="#1a1a1a" stroke-width="1"/>
<text x="491.5" y="121.7" font-family="'Liberation Serif', serif" font-size="9.5" text-anchor="start" font-weight="normal" font-style="normal" fill="#1a1a1a" stroke="#1a1a1a" stroke-width="0.05">30 kDa</text>
<line x1="484.3" y1="86.9" x2="488" y2="86.9" stroke="#1a1a1a" stroke-width="1"/>
<text x="486.4" y="87.6" font-family="'Liberation Serif', serif" font-size="12" text-anchor="middle" font-weight="normal" font-style="normal" fill="#1a1a1a" stroke="#1a1a1a" stroke-width="0.3">*</text>
<text x="493" y="90.9" font-family="'Liberation Serif', serif" font-size="9.5" text-anchor="start" font-weight="normal" font-style="normal" fill="#1a1a1a" stroke="#1a1a1a" stroke-width="0.05">69 kDa</text>
<defs>
<clipPath id="bclip"><rect x="358.8" y="55.8" width="122.19999999999999" height="65.0"/></clipPath>
<filter id="bblur" x="-10%" y="-10%" width="120%" height="120%"><feGaussianBlur stdDeviation="1.8 1.1"/></filter>
<filter id="abblur" x="-20%" y="-80%" width="140%" height="260%"><feGaussianBlur stdDeviation="0.9 0.7"/></filter>
<linearGradient id="lg0" gradientUnits="userSpaceOnUse" x1="0" y1="55.8" x2="0" y2="120.8"><stop offset="0.0031" stop-color="#d0d0d0"/><stop offset="0.0646" stop-color="#cacaca"/><stop offset="0.1262" stop-color="#c0c0c0"/><stop offset="0.1877" stop-color="#b0b0b0"/><stop offset="0.2492" stop-color="#a0a0a0"/><stop offset="0.3108" stop-color="#969696"/><stop offset="0.4031" stop-color="#919191"/><stop offset="0.4954" stop-color="#8c8c8c"/><stop offset="0.5723" stop-color="#7f7f7f"/><stop offset="0.6262" stop-color="#6a6a6a"/><stop offset="0.6723" stop-color="#878787"/><stop offset="0.7108" stop-color="#aaaaaa"/><stop offset="0.7877" stop-color="#bebebe"/><stop offset="0.8954" stop-color="#c0c0c0"/><stop offset="1.0031" stop-color="#bcbcbc"/></linearGradient>
<linearGradient id="lg1" gradientUnits="userSpaceOnUse" x1="0" y1="55.8" x2="0" y2="120.8"><stop offset="0.0031" stop-color="#d6d6d6"/><stop offset="0.0646" stop-color="#d0d0d0"/><stop offset="0.1262" stop-color="#c6c6c6"/><stop offset="0.1877" stop-color="#bcbcbc"/><stop offset="0.2646" stop-color="#afafaf"/><stop offset="0.3415" stop-color="#a5a5a5"/><stop offset="0.3954" stop-color="#8c8c8c"/><stop offset="0.4215" stop-color="#787878"/><stop offset="0.4569" stop-color="#8c8c8c"/><stop offset="0.5262" stop-color="#969696"/><stop offset="0.5877" stop-color="#919191"/><stop offset="0.6262" stop-color="#808080"/><stop offset="0.6723" stop-color="#9b9b9b"/><stop offset="0.7108" stop-color="#b6b6b6"/><stop offset="0.7877" stop-color="#c6c6c6"/><stop offset="1.0031" stop-color="#c8c8c8"/></linearGradient>
<linearGradient id="lg2" gradientUnits="userSpaceOnUse" x1="0" y1="55.8" x2="0" y2="120.8"><stop offset="0.0031" stop-color="#cecece"/><stop offset="0.0492" stop-color="#c6c6c6"/><stop offset="0.0954" stop-color="#b6b6b6"/><stop offset="0.1415" stop-color="#a0a0a0"/><stop offset="0.1877" stop-color="#828282"/><stop offset="0.2338" stop-color="#6c6c6c"/><stop offset="0.2954" stop-color="#5f5f5f"/><stop offset="0.3723" stop-color="#585858"/><stop offset="0.4646" stop-color="#505050"/><stop offset="0.5415" stop-color="#444444"/><stop offset="0.6338" stop-color="#3e3e3e"/><stop offset="0.6723" stop-color="#505050"/><stop offset="0.7031" stop-color="#8c8c8c"/><stop offset="0.7415" stop-color="#b4b4b4"/><stop offset="0.8031" stop-color="#c3c3c3"/><stop offset="1.0031" stop-color="#c6c6c6"/></linearGradient>
<linearGradient id="lg3" gradientUnits="userSpaceOnUse" x1="0" y1="55.8" x2="0" y2="120.8"><stop offset="0.0031" stop-color="#d2d2d2"/><stop offset="0.0646" stop-color="#cacaca"/><stop offset="0.1108" stop-color="#bcbcbc"/><stop offset="0.1569" stop-color="#a8a8a8"/><stop offset="0.2031" stop-color="#949494"/><stop offset="0.2646" stop-color="#7d7d7d"/><stop offset="0.3415" stop-color="#6e6e6e"/><stop offset="0.3877" stop-color="#646464"/><stop offset="0.4231" stop-color="#4e4e4e"/><stop offset="0.4569" stop-color="#5f5f5f"/><stop offset="0.5262" stop-color="#585858"/><stop offset="0.6185" stop-color="#555555"/><stop offset="0.6723" stop-color="#5f5f5f"/><stop offset="0.7031" stop-color="#969696"/><stop offset="0.7415" stop-color="#b9b9b9"/><stop offset="0.8031" stop-color="#c5c5c5"/><stop offset="1.0031" stop-color="#c8c8c8"/></linearGradient>
<linearGradient id="l1x" x1="0" y1="0" x2="1" y2="0"><stop offset="0" stop-color="#000" stop-opacity="0.30"/><stop offset="0.35" stop-color="#000" stop-opacity="0.12"/><stop offset="1" stop-color="#000" stop-opacity="0"/></linearGradient>
</defs>
<g clip-path="url(#bclip)">
<rect x="358.8" y="55.8" width="122.19999999999999" height="65.0" fill="#e2e2e2"/>
<g filter="url(#bblur)">
<rect x="360.0" y="52.8" width="25.0" height="71.0" fill="url(#lg0)"/>
<rect x="390.5" y="52.8" width="26.0" height="71.0" fill="url(#lg1)"/>
<rect x="423.5" y="52.8" width="24.0" height="71.0" fill="url(#lg2)"/>
<rect x="453.5" y="52.8" width="24.0" height="71.0" fill="url(#lg3)"/>
<rect x="359.5" y="62" width="26" height="6" fill="url(#l1x)" opacity="0.35"/>
<rect x="359.5" y="68" width="26" height="6" fill="url(#l1x)" opacity="0.7"/>
<rect x="359.5" y="74" width="26" height="47" fill="url(#l1x)"/>
<rect x="358" y="88" width="3.2" height="34" fill="#000" opacity="0.3"/>
</g></g>
<rect x="358.8" y="55.8" width="122.19999999999999" height="65.0" fill="none" stroke="#222" stroke-width="1.2"/>
<rect x="358.8" y="120.8" width="122.19999999999999" height="23.700000000000003" fill="#fbfbfb" stroke="#222" stroke-width="1.2"/>
<g filter="url(#abblur)">
<path d="M362.8,133.0 C365.8,130.1 368.8,130.4 371.4,130.4 C374.0,130.4 377.0,130.1 380.0,133.0 C377.0,135.9 374.0,135.6 371.4,135.6 C368.8,135.6 365.8,135.9 362.8,133.0 Z" fill="#3a3a3a"/>
<path d="M371.0,133.0 C374.0,130.1 377.0,130.4 379.75,130.4 C382.5,130.4 385.5,130.1 388.5,133.0 C385.5,135.9 382.5,135.6 379.75,135.6 C377.0,135.6 374.0,135.9 371.0,133.0 Z" fill="#3a3a3a"/>
<path d="M394.0,133.0 C397.0,130.04999999999998 400.0,130.35 406.25,130.35 C412.5,130.35 415.5,130.04999999999998 418.5,133.0 C415.5,135.95000000000002 412.5,135.65 406.25,135.65 C400.0,135.65 397.0,135.95000000000002 394.0,133.0 Z" fill="#363636"/>
<path d="M424.8,133.0 C427.8,130.1 430.8,130.4 436.65,130.4 C442.5,130.4 445.5,130.1 448.5,133.0 C445.5,135.9 442.5,135.6 436.65,135.6 C430.8,135.6 427.8,135.9 424.8,133.0 Z" fill="#383838"/>
<path d="M452.3,133.0 C455.3,130.2 458.3,130.5 464.25,130.5 C470.2,130.5 473.2,130.2 476.2,133.0 C473.2,135.8 470.2,135.5 464.25,135.5 C458.3,135.5 455.3,135.8 452.3,133.0 Z" fill="#3a3a3a"/>
</g>
<text x="313.0" y="194.6" font-family="'Liberation Sans', sans-serif" font-size="26" text-anchor="start" font-weight="bold" font-style="normal" fill="#000">F</text>
<line x1="359.4" y1="197.2" x2="359.4" y2="309.4" stroke="#1a1a1a" stroke-width="1.2"/>
<line x1="354.9" y1="197.2" x2="359.4" y2="197.2" stroke="#1a1a1a" stroke-width="1"/>
<line x1="354.9" y1="253.29999999999998" x2="359.4" y2="253.29999999999998" stroke="#1a1a1a" stroke-width="1"/>
<line x1="354.9" y1="309.4" x2="359.4" y2="309.4" stroke="#1a1a1a" stroke-width="1"/>
<line x1="354.9" y1="236.5" x2="359.4" y2="236.5" stroke="#1a1a1a" stroke-width="1"/>
<line x1="354.9" y1="226.5" x2="359.4" y2="226.5" stroke="#1a1a1a" stroke-width="1"/>
<line x1="354.9" y1="219.5" x2="359.4" y2="219.5" stroke="#1a1a1a" stroke-width="1"/>
<line x1="354.9" y1="214.5" x2="359.4" y2="214.5" stroke="#1a1a1a" stroke-width="1"/>
<line x1="354.9" y1="209.5" x2="359.4" y2="209.5" stroke="#1a1a1a" stroke-width="1"/>
<line x1="354.9" y1="205.5" x2="359.4" y2="205.5" stroke="#1a1a1a" stroke-width="1"/>
<line x1="354.9" y1="202.5" x2="359.4" y2="202.5" stroke="#1a1a1a" stroke-width="1"/>
<line x1="354.9" y1="199.5" x2="359.4" y2="199.5" stroke="#1a1a1a" stroke-width="1"/>
<line x1="354.9" y1="292.5" x2="359.4" y2="292.5" stroke="#1a1a1a" stroke-width="1"/>
<line x1="354.9" y1="282.5" x2="359.4" y2="282.5" stroke="#1a1a1a" stroke-width="1"/>
<line x1="354.9" y1="275.5" x2="359.4" y2="275.5" stroke="#1a1a1a" stroke-width="1"/>
<line x1="354.9" y1="270.5" x2="359.4" y2="270.5" stroke="#1a1a1a" stroke-width="1"/>
<line x1="354.9" y1="265.5" x2="359.4" y2="265.5" stroke="#1a1a1a" stroke-width="1"/>
<line x1="354.9" y1="261.5" x2="359.4" y2="261.5" stroke="#1a1a1a" stroke-width="1"/>
<line x1="354.9" y1="258.5" x2="359.4" y2="258.5" stroke="#1a1a1a" stroke-width="1"/>
<line x1="354.9" y1="255.5" x2="359.4" y2="255.5" stroke="#1a1a1a" stroke-width="1"/>
<text x="345.6" y="201.4" font-family="'Liberation Serif', serif" font-size="10.5" text-anchor="middle" font-weight="normal" font-style="normal" fill="#1a1a1a" stroke="#1a1a1a" stroke-width="0.12">100</text>
<text x="345.6" y="257.6" font-family="'Liberation Serif', serif" font-size="10.5" text-anchor="middle" font-weight="normal" font-style="normal" fill="#1a1a1a" stroke="#1a1a1a" stroke-width="0.12">10</text>
<text x="349.2" y="313.5" font-family="'Liberation Serif', serif" font-size="10.5" text-anchor="middle" font-weight="normal" font-style="normal" fill="#1a1a1a" stroke="#1a1a1a" stroke-width="0.12">1</text>
<text x="337.1" y="255.7" font-family="'Liberation Serif', serif" font-size="10.7" text-anchor="middle" font-weight="normal" font-style="normal" fill="#1a1a1a" stroke="#1a1a1a" stroke-width="0.12" transform="rotate(-90 337.1 255.7)">p-JNK (fold of control)</text>
<line x1="359.4" y1="309.3" x2="416.7" y2="309.3" stroke="#1a1a1a" stroke-width="1.1"/>
<line x1="387.5" y1="309.3" x2="387.5" y2="311.3" stroke="#1a1a1a" stroke-width="1"/>
<rect x="364.2" y="275.5" width="7.800000000000011" height="33.80000000000001" fill="#fff" stroke="#1a1a1a" stroke-width="1"/>
<line x1="368.5" y1="275.0" x2="368.5" y2="254.5" stroke="#1a1a1a" stroke-width="1"/>
<line x1="366.7" y1="254.5" x2="370.3" y2="254.5" stroke="#1a1a1a" stroke-width="1"/>
<rect x="372.5" y="219.0" width="8.800000000000011" height="90.30000000000001" fill="#000"/>
<line x1="376.5" y1="219.0" x2="376.5" y2="214.6" stroke="#1a1a1a" stroke-width="1"/>
<line x1="374.7" y1="214.6" x2="378.3" y2="214.6" stroke="#1a1a1a" stroke-width="1"/>
<rect x="393.8" y="293.8" width="7.800000000000011" height="15.5" fill="#fff" stroke="#1a1a1a" stroke-width="1"/>
<line x1="397.5" y1="293.3" x2="397.5" y2="280.3" stroke="#1a1a1a" stroke-width="1"/>
<line x1="395.7" y1="280.3" x2="399.3" y2="280.3" stroke="#1a1a1a" stroke-width="1"/>
<rect x="402.1" y="264.5" width="8.800000000000011" height="44.80000000000001" fill="#000"/>
<line x1="406.5" y1="264.5" x2="406.5" y2="258.3" stroke="#1a1a1a" stroke-width="1"/>
<line x1="404.7" y1="258.3" x2="408.3" y2="258.3" stroke="#1a1a1a" stroke-width="1"/>
<rect x="391.1" y="201.7" width="8.5" height="8.5" fill="#fff" stroke="#1a1a1a" stroke-width="1"/>
<text x="405.3" y="209.5" font-family="'Liberation Serif', serif" font-size="10.7" text-anchor="start" font-weight="normal" font-style="normal" fill="#1a1a1a" stroke="#1a1a1a" stroke-width="0.12">medium</text>
<rect x="390.6" y="214.2" width="9.5" height="9.5" fill="#000"/>
<text x="405.3" y="222.5" font-family="'Liberation Serif', serif" font-size="10.7" text-anchor="start" font-weight="normal" font-style="normal" fill="#1a1a1a" stroke="#1a1a1a" stroke-width="0.12">CD40L</text>
<text x="316.7" y="324.8" font-family="'Liberation Serif', serif" font-size="11" text-anchor="start" font-weight="normal" font-style="normal" fill="#1a1a1a" stroke="#1a1a1a" stroke-width="0.12">I&#954;B&#945;AA</text>
<text x="330.2" y="344" font-family="'Liberation Serif', serif" font-size="11" text-anchor="start" font-weight="normal" font-style="normal" fill="#1a1a1a" stroke="#1a1a1a" stroke-width="0.12">NAC</text>
<line x1="372.4" y1="322.9" x2="377.6" y2="322.9" stroke="#1a1a1a" stroke-width="0.9"/>
<line x1="375" y1="320.29999999999995" x2="375" y2="325.5" stroke="#1a1a1a" stroke-width="0.9"/>
<line x1="402.5" y1="322.9" x2="407.70000000000005" y2="322.9" stroke="#1a1a1a" stroke-width="0.9"/>
<line x1="405.1" y1="320.29999999999995" x2="405.1" y2="325.5" stroke="#1a1a1a" stroke-width="0.9"/>
<line x1="372.4" y1="341" x2="377.6" y2="341" stroke="#1a1a1a" stroke-width="0.9"/>
<line x1="402.5" y1="341" x2="407.70000000000005" y2="341" stroke="#1a1a1a" stroke-width="0.9"/>
<line x1="405.1" y1="338.4" x2="405.1" y2="343.6" stroke="#1a1a1a" stroke-width="0.9"/>
</svg>
</body></html>
